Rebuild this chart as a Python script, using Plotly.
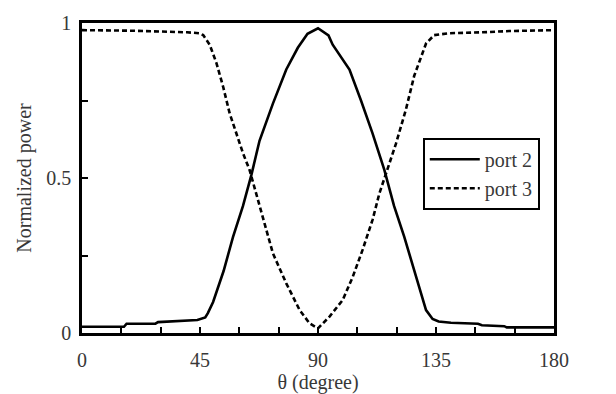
import plotly.graph_objects as go

# Port 2 (solid)
theta2 = [0, 16, 17, 28, 29, 39, 44, 47, 48, 50, 52, 54, 57.6, 61.4, 64.6, 67.7, 72.8, 77.9, 82.3,
          86, 90, 94, 95.6, 102, 106.4, 110.8, 115.3, 119, 122.9, 125, 127.4, 129.5, 131.2, 133.7, 136,
          140.7, 151, 152.5, 161, 162, 180]
port2 = [0.02, 0.02, 0.03, 0.03, 0.035, 0.04, 0.042, 0.05, 0.064, 0.1, 0.15, 0.2, 0.31, 0.41, 0.51, 0.62, 0.74, 0.85, 0.92,
         0.965, 0.983, 0.96, 0.93, 0.85, 0.75, 0.644, 0.526, 0.41, 0.31, 0.25, 0.18, 0.12, 0.074, 0.045, 0.037,
         0.033, 0.03, 0.025, 0.022, 0.018, 0.018]

# Port 3 (dashed)
theta3 = [0, 20, 40, 44.9, 46.2, 48.7, 51.3, 53.8, 56.3, 58.9, 61.4, 63.9, 67.7, 72.8, 77.9, 83, 86.8, 90,
          94.4, 99.4, 103.2, 107, 110.8, 113.4, 116, 119.7, 123.5, 126.7, 129.3, 131.2, 134.3, 140, 152.7, 162.9, 180]
port3 = [0.977, 0.975, 0.97, 0.967, 0.961, 0.93, 0.87, 0.795, 0.709, 0.644, 0.58, 0.526, 0.41, 0.257, 0.16, 0.074, 0.031, 0.015,
         0.053, 0.106, 0.18, 0.268, 0.365, 0.45, 0.516, 0.61, 0.72, 0.83, 0.89, 0.934, 0.961, 0.967, 0.97, 0.974, 0.977]

FONT = "Liberation Serif, Times New Roman, serif"
FS = 20

fig = go.Figure()
fig.add_trace(go.Scatter(x=theta2, y=port2, mode="lines", name="port 2", legendgroup="a",
                         line=dict(color="black", width=2.6)))
fig.add_trace(go.Scatter(x=theta3, y=port3, mode="lines", name="port 3", legendgroup="b",
                         line=dict(color="black", width=2.6, dash="5px,3px")))

fig.update_layout(
    width=616, height=394,
    margin=dict(l=82, r=62, t=23, b=61, autoexpand=False),
    paper_bgcolor="white", plot_bgcolor="white",
    font=dict(family=FONT, size=FS, color="#383838"),
    showlegend=True,
    legend=dict(x=0.722, y=0.63, xanchor="left", yanchor="top",
                bordercolor="black", borderwidth=2, bgcolor="white",
                font=dict(family=FONT, size=FS, color="#383838"),
                itemwidth=50, tracegroupgap=0),
    xaxis=dict(range=[0, 180], tickvals=[0, 45, 90, 135, 180], automargin=False,
               ticks="inside", ticklen=6, tickwidth=2, tickcolor="black",
               minor=dict(dtick=15, tick0=0, ticks="inside", ticklen=6, tickwidth=2, tickcolor="black"),
               showline=True, linecolor="black", linewidth=2.5, mirror=True,
               showgrid=False, zeroline=False, ticklabelstandoff=7,
               title=dict(text="θ (degree)", standoff=15, font=dict(size=FS)),
               tickfont=dict(size=FS)),
    yaxis=dict(range=[0, 1], tickvals=[0, 0.5, 1], ticktext=["0", "0.5", "1"], automargin=False,
               ticks="inside", ticklen=6, tickwidth=2, tickcolor="black",
               minor=dict(dtick=0.25, tick0=0, ticks="inside", ticklen=6, tickwidth=2, tickcolor="black"),
               showline=True, linecolor="black", linewidth=2.5, mirror=True,
               showgrid=False, zeroline=False, ticklabelstandoff=4,
               title=dict(text="Normalized power", standoff=10, font=dict(size=FS)),
               tickfont=dict(size=FS)),
)

fig.write_html("out.html")
